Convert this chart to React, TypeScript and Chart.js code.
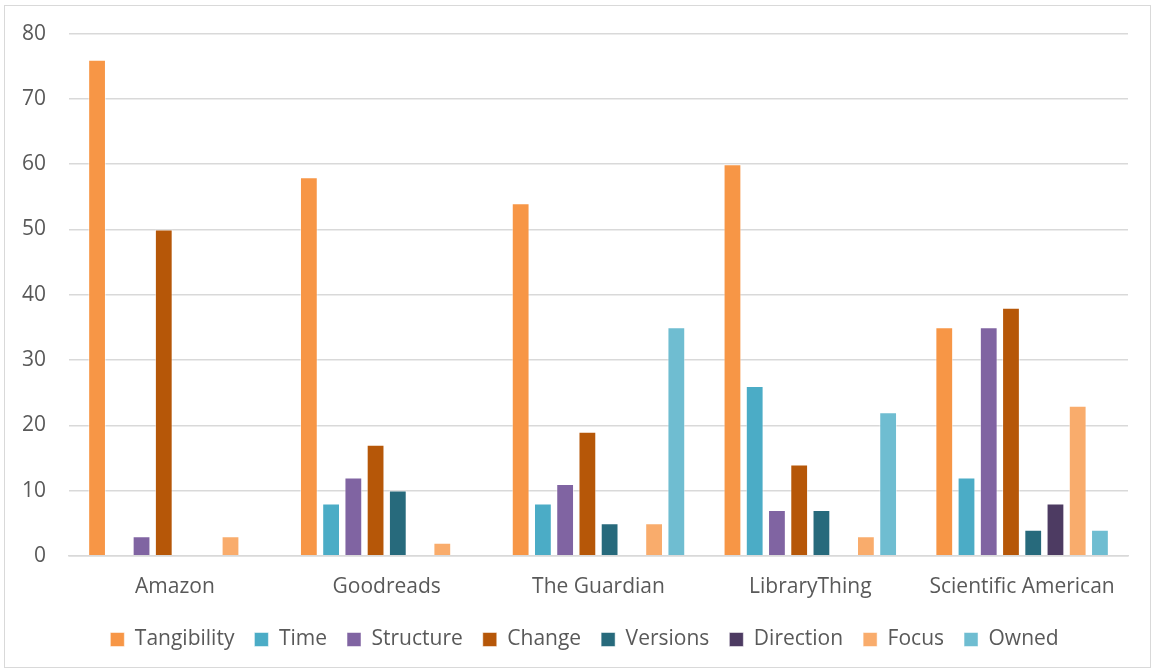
import React, { useEffect, useRef } from "react";
import { Chart, registerables } from "chart.js";

Chart.register(...registerables);

const categories = ["Amazon", "Goodreads", "The Guardian", "LibraryThing", "Scientific American"];
const tangibility = [76, 58, 54, 60, 35];
const time = [0, 8, 8, 26, 12];
const structure = [3, 12, 11, 7, 35];
const change = [50, 17, 19, 14, 38];
const versions = [0, 10, 5, 7, 4];
const direction = [0, 0, 0, 0, 8];
const focus = [3, 2, 5, 3, 23];
const owned = [0, 0, 35, 22, 4];
const yTicks = [0, 10, 20, 30, 40, 50, 60, 70, 80];

const seriesNames = ["Tangibility", "Time", "Structure", "Change", "Versions", "Direction", "Focus", "Owned"];
const seriesValues = [tangibility, time, structure, change, versions, direction, focus, owned];
const seriesColors = ["#F79646", "#4BACC6", "#8064A2", "#B65708", "#276A7C", "#4D3B62", "#F9AC6C", "#6FBDD1"];

const FONT = "'Open Sans', sans-serif";

const legendShift = {
  id: "legendShift",
  afterLayout(chart: any) {
    const lg = chart.legend;
    if (lg) {
      lg.left += 18;
      lg.right += 18;
    }
  },
};

export default function App() {
  const ref = useRef<HTMLCanvasElement>(null);
  useEffect(() => {
    document.body.style.margin = "0";
    const ctx = ref.current!;
    const chart = new Chart(ctx, {
      type: "bar",
      data: {
        labels: categories,
        datasets: seriesNames.map((n, i) => ({
          label: n,
          data: seriesValues[i],
          backgroundColor: seriesColors[i],
          borderColor: "rgba(255,255,255,0.5)",
          borderWidth: 1,
          categoryPercentage: 0.84,
          barPercentage: 0.8,
        })),
      },
      plugins: [legendShift],
      options: {
        animation: false,
        responsive: false,
        maintainAspectRatio: false,
        layout: { padding: { top: 8, right: 22, left: 0, bottom: 7 } },
        plugins: {
          tooltip: { enabled: false },
          legend: {
            position: "bottom",
            labels: {
              boxWidth: 14,
              boxHeight: 14,
              padding: 20,
              color: "#595959",
              font: { family: FONT, size: 21 },
            },
          },
        },
        scales: {
          x: {
            grid: { display: false, drawTicks: false },
            border: { color: "#D9D9D9", width: 1.5 },
            ticks: { color: "#595959", font: { family: FONT, size: 21 }, padding: 19 },
            afterFit: (axis: any) => {
              axis.height -= 10;
            },
          },
          y: {
            min: 0,
            max: 80,
            afterBuildTicks: (axis: any) => {
              axis.ticks = yTicks.map((v) => ({ value: v }));
            },
            afterFit: (axis: any) => {
              axis.width = 64;
            },
            grid: { color: "#D9D9D9", lineWidth: 1.5, drawTicks: false },
            border: { display: false },
            ticks: { color: "#595959", font: { family: FONT, size: 21 }, padding: 23 },
          },
        },
      },
    });
    return () => chart.destroy();
  }, []);
  return (
    <div
      style={{
        position: "absolute",
        left: 4,
        top: 5,
        width: 1145,
        height: 661,
        border: "1px solid #D9D9D9",
        background: "#fff",
        overflow: "hidden",
      }}
    >
      <canvas ref={ref} width={1145} height={669} style={{ display: "block", marginTop: -8 }} />
    </div>
  );
}
